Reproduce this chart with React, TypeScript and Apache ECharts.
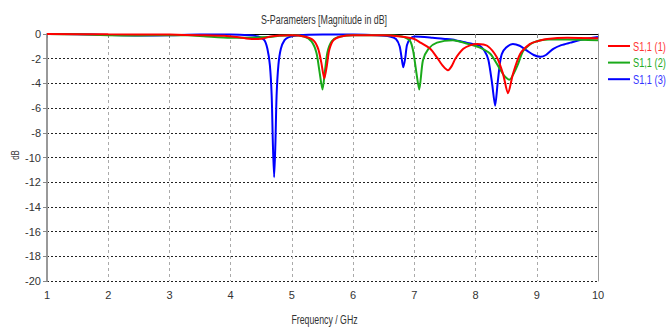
import React, { useEffect, useRef } from "react";
import * as echarts from "echarts";

const seriesNames = ["S1,1 (1)", "S1,1 (2)", "S1,1 (3)"];
const seriesColors = ["#ff0000", "#1aaa1a", "#0000ff"];
const legendTextColors = ["#ff3333", "#22aa22", "#3333ff"];

const freq1 = [1.0, 2.0, 3.0, 3.5, 3.9, 4.1, 4.3, 4.45, 4.55, 4.65, 4.8, 5.0, 5.2, 5.35, 5.43, 5.48, 5.53, 5.57, 5.61, 5.68, 5.8, 6.0, 6.5, 6.77, 7.0, 7.1, 7.26, 7.37, 7.47, 7.55, 7.61, 7.67, 7.8, 7.92, 8.03, 8.19, 8.35, 8.45, 8.53, 8.61, 8.73, 8.89, 9.0, 9.17, 9.5, 10.0];
const db1 = [0, -0.03, -0.05, -0.1, -0.15, -0.25, -0.38, -0.4, -0.35, -0.2, -0.12, -0.1, -0.2, -0.5, -1.2, -2.3, -3.6, -2.6, -1.3, -0.5, -0.2, -0.1, -0.1, -0.2, -0.4, -0.7, -1.2, -1.9, -2.6, -2.93, -2.6, -2.0, -1.2, -0.9, -0.8, -0.95, -1.9, -3.25, -4.8, -3.25, -1.6, -0.8, -0.6, -0.4, -0.3, -0.35];

const freq2 = [1.0, 1.5, 2.0, 2.5, 3.0, 3.3, 3.6, 4.0, 4.3, 4.6, 4.8, 5.0, 5.2, 5.32, 5.4, 5.45, 5.5, 5.54, 5.58, 5.65, 5.75, 6.0, 6.5, 6.8, 6.93, 6.98, 7.03, 7.08, 7.14, 7.23, 7.37, 7.63, 7.8, 8.07, 8.24, 8.37, 8.47, 8.55, 8.68, 8.78, 8.94, 9.2, 9.5, 10.0];
const db2 = [0, -0.03, -0.1, -0.12, -0.1, -0.1, -0.2, -0.3, -0.3, -0.25, -0.15, -0.1, -0.2, -0.6, -1.5, -3.0, -4.5, -3.0, -1.5, -0.6, -0.25, -0.1, -0.1, -0.2, -0.55, -1.35, -3.0, -4.5, -2.15, -1.2, -0.7, -0.5, -0.7, -1.1, -1.6, -2.6, -3.4, -3.7, -2.6, -1.35, -0.7, -0.45, -0.45, -0.5];

const freq3 = [1.0, 1.5, 2.0, 2.5, 3.0, 3.5, 4.0, 4.3, 4.45, 4.55, 4.6, 4.64, 4.67, 4.69, 4.71, 4.73, 4.75, 4.78, 4.82, 4.88, 4.95, 5.1, 5.5, 6.0, 6.4, 6.6, 6.7, 6.76, 6.8, 6.82, 6.85, 6.88, 6.93, 7.0, 7.3, 7.5, 7.67, 7.8, 7.95, 8.07, 8.15, 8.21, 8.27, 8.32, 8.36, 8.4, 8.43, 8.5, 8.61, 8.72, 8.84, 8.95, 9.06, 9.15, 9.27, 9.4, 9.55, 9.75, 10.0];
const db3 = [0, -0.02, -0.08, -0.12, -0.1, -0.05, -0.05, -0.1, -0.2, -0.5, -1.2, -2.5, -5.0, -9.0, -11.6, -9.0, -5.0, -2.5, -1.2, -0.5, -0.25, -0.1, -0.05, -0.05, -0.1, -0.2, -0.4, -1.0, -2.2, -2.7, -2.0, -0.9, -0.4, -0.2, -0.3, -0.4, -0.5, -0.65, -0.8, -0.95, -1.4, -2.1, -4.0, -5.8, -4.0, -2.3, -1.6, -1.1, -0.8, -0.95, -1.35, -1.7, -1.85, -1.7, -1.2, -0.9, -0.7, -0.45, -0.25];

const xTicks = [1, 2, 3, 4, 5, 6, 7, 8, 9, 10];
const yTicks = [0, -2, -4, -6, -8, -10, -12, -14, -16, -18, -20];

const titleText = "S-Parameters [Magnitude in dB]";
const xName = "Frequency / GHz";
const yName = "dB";

const FONT = "'Liberation Sans', Arial, sans-serif";

export default function App() {
  const ref = useRef<HTMLDivElement>(null);
  useEffect(() => {
    if (!ref.current) return;
    const chart = echarts.init(ref.current, null, { renderer: "svg" });
    const freqs = [freq1, freq2, freq3];
    const dbs = [db1, db2, db3];
    const legendGraphics: any[] = [];
    seriesNames.forEach((n, i) => {
      const y = 46 + i * 16.6;
      legendGraphics.push({
        type: "line",
        shape: { x1: 608, y1: y, x2: 630, y2: y },
        style: { stroke: seriesColors[i], lineWidth: 2 },
      });
      legendGraphics.push({
        type: "text",
        x: 633,
        y: y,
        scaleX: 0.74,
        style: {
          text: n,
          fill: legendTextColors[i],
          font: `12.5px ${FONT}`,
          textAlign: "left",
          textVerticalAlign: "middle",
        },
      });
    });
    chart.setOption({
      animation: false,
      backgroundColor: "#ffffff",
      graphic: [
        {
          type: "text",
          x: 324,
          y: 19,
          scaleX: 0.71,
          style: {
            text: titleText,
            fill: "#333333",
            font: `12.5px ${FONT}`,
            textAlign: "center",
            textVerticalAlign: "middle",
          },
        },
        {
          type: "text",
          x: 324.5,
          y: 319,
          scaleX: 0.73,
          style: {
            text: xName,
            fill: "#333333",
            font: `12px ${FONT}`,
            textAlign: "center",
            textVerticalAlign: "middle",
          },
        },
        {
          type: "text",
          x: 15,
          y: 155,
          rotation: Math.PI / 2,
          scaleX: 0.72,
          style: {
            text: yName,
            fill: "#333333",
            font: `11px ${FONT}`,
            textAlign: "center",
            textVerticalAlign: "middle",
          },
        },
        ...legendGraphics,
      ],
      grid: { left: 47, right: 70, top: 34, bottom: 46, outerBoundsMode: "none", containLabel: false },
      xAxis: [
        {
          type: "value",
          min: xTicks[0],
          max: xTicks[xTicks.length - 1],
          interval: 1,
          axisLine: { lineStyle: { color: "#000000", width: 1 } },
          axisTick: { show: true, length: 4, lineStyle: { color: "#888888" } },
          axisLabel: { fontFamily: FONT, fontSize: 11, color: "#333333", margin: 8 },
          splitLine: { show: true, lineStyle: { color: "#aaaaaa", type: [3, 3], width: 1 } },
        },
        {
          type: "value",
          position: "top",
          min: 1,
          max: 10,
          interval: 1,
          axisLine: { show: true, onZero: false, lineStyle: { color: "#000000", width: 1 } },
          axisTick: { show: false },
          axisLabel: { show: false },
          splitLine: { show: false },
        },
      ],
      yAxis: [
        {
          type: "value",
          min: yTicks[yTicks.length - 1],
          max: yTicks[0],
          interval: 2,
          axisLine: { show: true, lineStyle: { color: "#999999", width: 2 } },
          axisTick: { show: true, length: 4, lineStyle: { color: "#888888" } },
          axisLabel: { fontFamily: FONT, fontSize: 11, color: "#333333", margin: 6 },
          splitLine: { show: true, lineStyle: { color: "#222222", type: [2, 2], width: 1 } },
        },
        {
          type: "value",
          position: "right",
          min: -20,
          max: 0,
          interval: 2,
          axisLine: { show: true, onZero: false, lineStyle: { color: "#999999", width: 1 } },
          axisTick: { show: false },
          axisLabel: { show: false },
          splitLine: { show: false },
        },
      ],
      series: seriesNames.map((n, i) => ({
        name: n,
        type: "line",
        xAxisIndex: 0,
        yAxisIndex: 0,
        showSymbol: false,
        smooth: 0.25,
        color: seriesColors[i],
        lineStyle: { color: seriesColors[i], width: 2 },
        data: freqs[i].map((f, j) => [f, dbs[i][j]]),
        z: 10 - i,
      })),
    });
    return () => chart.dispose();
  }, []);
  return (
    <div
      ref={ref}
      style={{ position: "fixed", left: 0, top: 0, width: 668, height: 327 }}
    />
  );
}
